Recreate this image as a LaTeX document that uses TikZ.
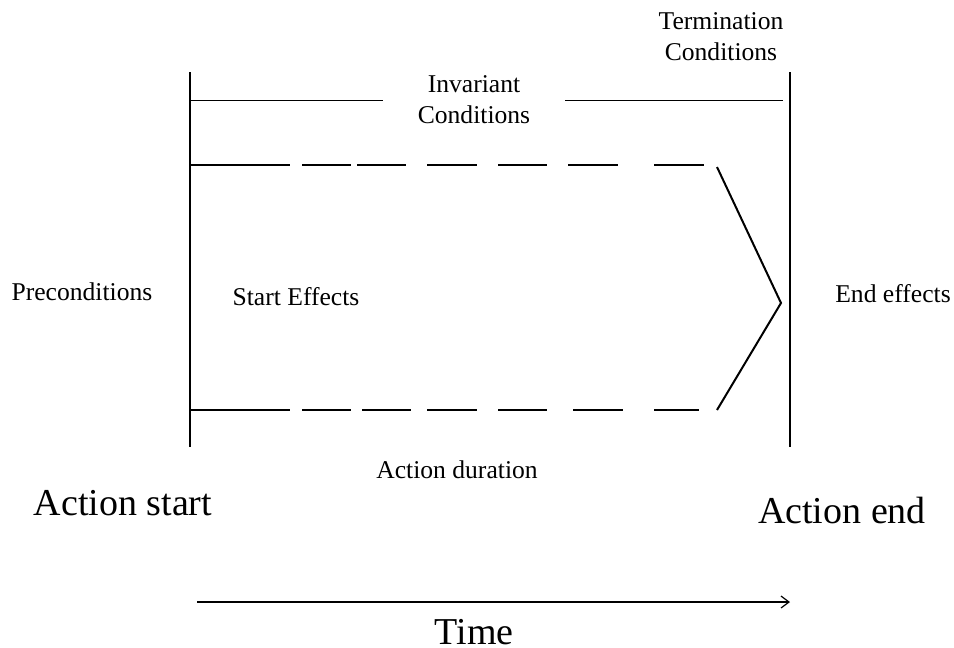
\documentclass[tikz,border=0pt]{standalone}
\usepackage{fontspec}
\setmainfont{Liberation Serif}
\usetikzlibrary{arrows.meta}
\begin{document}
\begin{tikzpicture}[x=1pt,y=-1pt,
  small/.style={font=\fontsize{25.6}{31}\selectfont,inner sep=0pt,anchor=base,align=center},
  big/.style={font=\fontsize{38}{46}\selectfont,inner sep=0pt,anchor=base},
  bar/.style={line width=2pt},
  thin/.style={line width=1pt},
  seg/.style={line width=2pt}]
\useasboundingbox (0,0) rectangle (954,648);

% start and end of the action
\draw[bar] (190,72) -- (190,447);
\draw[bar] (790,72) -- (790,447);

% invariant conditions line
\draw[thin] (190,100) -- (383,100);
\draw[thin] (565,100) -- (783,100);

% dashed effect lines
\foreach \a/\b in {191/290,302/351,357/406,427/477,498/547,568/618,654/704}
  \draw[seg] (\a,165) -- (\b,165);
\foreach \a/\b in {191/290,302/351,362/411,427/477,498/547,573/623,654/699}
  \draw[seg] (\a,410) -- (\b,410);

% chevron towards the end
\draw[seg,line join=miter] (717,167) -- (781,303) -- (717,410);

% labels (base anchor sits on the last line of a two-line label)
\node[small] (term) at (721,60) {Termination\\Conditions};
\node[small] (inv) at (474,123) {Invariant\\Conditions};
\node[small] (pre) at (82,300) {Preconditions};
\node[small] (seff) at (296,305) {Start Effects};
\node[small] (eeff) at (893,302) {End effects};
\node[small] (dur) at (457,478) {Action duration};
\node[big] (astart) at (123,515) {Action start};
\node[big] (aend) at (842,523) {Action end};
\node[big] (time) at (474,644) {Time};

% time axis
\coordinate (t0) at (197,602);
\coordinate (t1) at (790,602);
\draw[line width=1.2pt,-{Straight Barb[length=8pt,width=12pt,line width=1.2pt]}] (t0) -- (t1);
\end{tikzpicture}
\end{document}
